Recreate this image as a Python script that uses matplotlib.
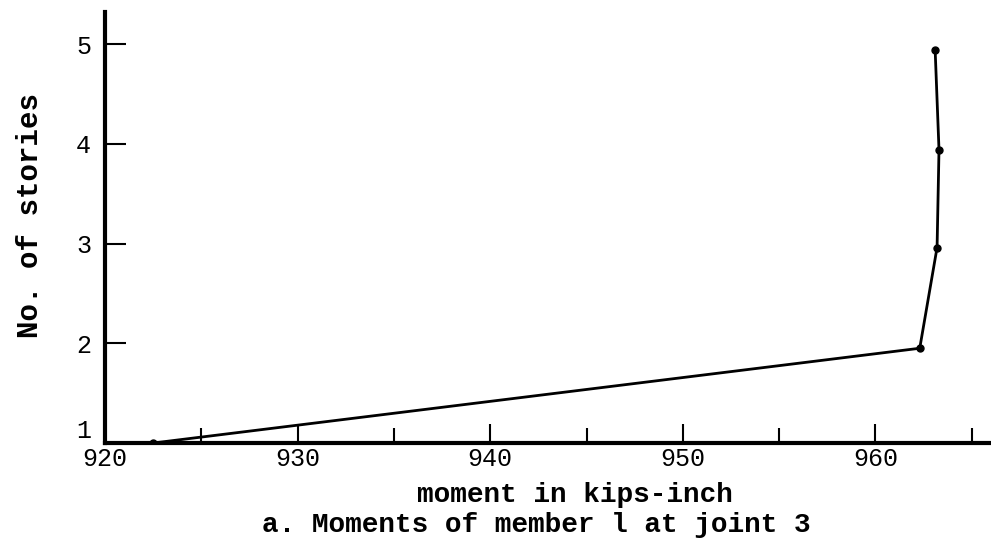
import numpy as np
import matplotlib
matplotlib.use("Agg")
import matplotlib.pyplot as plt
from matplotlib.ticker import MultipleLocator

# data
moment = [922.5, 962.3, 963.2, 963.3, 963.1]
stories = [1.0, 1.95, 2.96, 3.94, 4.94]

x_ticks = [920, 930, 940, 950, 960]
y_ticks = [1, 2, 3, 4, 5]

plt.rcParams['font.family'] = ['Liberation Mono', 'DejaVu Sans Mono']

fig = plt.figure(figsize=(9.91, 5.5), dpi=100)
ax = fig.add_axes([0.106, 0.1945, 0.894, 0.7835])

ax.plot(moment, stories, color='black', linewidth=2, marker='o', markersize=5)

ax.set_xlim(920, 966)
ax.set_ylim(1, 5.32)

ax.set_xticks(x_ticks)
ax.xaxis.set_minor_locator(MultipleLocator(5))
ax.set_yticks(y_ticks)

for side in ['top', 'right']:
    ax.spines[side].set_visible(False)
for side in ['left', 'bottom']:
    ax.spines[side].set_linewidth(3)
    ax.spines[side].set_color('black')

ax.tick_params(axis='x', which='major', direction='in', length=14, width=1.5,
               labelsize=18, pad=3, colors='black')
ax.tick_params(axis='x', which='minor', direction='in', length=11, width=1.5)
ax.tick_params(axis='y', which='major', direction='in', length=15, width=1.5,
               labelsize=18, pad=10, colors='black')

# the "1" sits just above the x axis line in the original
ax.get_yticklabels()[0].set_va('bottom')

fig.text(0.58, 0.1, 'moment in kips-inch', ha='center', va='center',
         fontsize=20, fontweight='bold')
fig.text(0.541, 0.045, 'a. Moments of member l at joint 3', ha='center', va='center',
         fontsize=20, fontweight='bold')
fig.text(0.03, 0.609, 'No. of stories', rotation=90, ha='center', va='center',
         fontsize=21, fontweight='bold')

fig.savefig('out.png', dpi=100, facecolor='white')
